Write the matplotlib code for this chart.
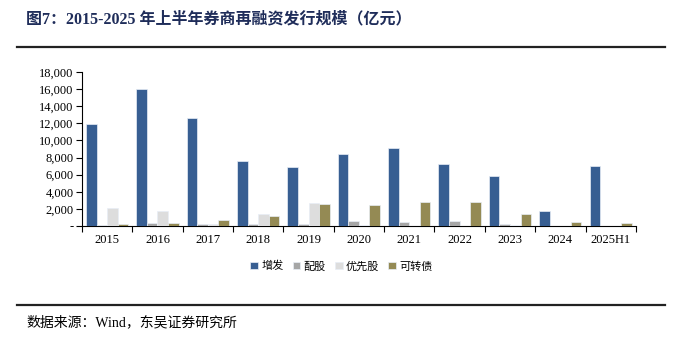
import matplotlib.pyplot as plt
import numpy as np
from matplotlib.ticker import FuncFormatter

plt.rcParams["font.family"] = ["Liberation Serif", "Noto Sans CJK SC", "DejaVu Sans"]

years = ["2015", "2016", "2017", "2018", "2019", "2020", "2021", "2022", "2023", "2024", "2025H1"]
series_names = ["增发", "配股", "优先股", "可转债"]
zengfa = [11900, 16000, 12600, 7600, 6900, 8380, 9150, 7280, 5830, 1760, 7000]
peigu = [60, 350, 200, 280, 200, 550, 520, 630, 180, 0, 0]
youxiangu = [2100, 1730, 220, 1400, 2630, 150, 0, 0, 100, 0, 0]
kezhuanzhai = [200, 300, 670, 1140, 2550, 2510, 2750, 2750, 1450, 520, 320]

colors = ["#375E92", "#A6A6A6", "#DDDDDD", "#948A54"]

fig = plt.figure(figsize=(6.83, 3.44), dpi=100)
fig.patch.set_facecolor("white")
ax = fig.add_axes([0.12, 0.343, 0.811, 0.448])

x = np.arange(len(years))
width = 0.21
for i, (vals, name) in enumerate(zip([zengfa, peigu, youxiangu, kezhuanzhai], series_names)):
    ax.bar(x + (i - 1.5) * width, vals, width, color=colors[i], label=name,
           edgecolor="#E8EEF6", linewidth=0.5, zorder=3)

ax.set_xlim(-0.5, len(years) - 0.5)
ax.set_ylim(0, 18000)
ax.set_yticks(np.arange(0, 18001, 2000))
ax.yaxis.set_major_formatter(FuncFormatter(lambda v, p: "-" if v == 0 else f"{int(v):,}"))
ax.set_xticks(x)
ax.set_xticklabels(years)
ax.set_xticks(np.arange(-0.5, len(years), 1), minor=True)
ax.tick_params(axis="x", which="major", length=0, pad=6, labelsize=9)
ax.tick_params(axis="x", which="minor", length=4, width=0.8, direction="out")
ax.tick_params(axis="y", length=4, width=0.8, direction="out", labelsize=9, pad=2)
for s in ["top", "right"]:
    ax.spines[s].set_visible(False)
ax.spines["left"].set_linewidth(0.8)
ax.spines["bottom"].set_linewidth(0.8)

leg = fig.legend(loc="center", bbox_to_anchor=(0.5, 0.226), ncol=4, frameon=False,
                 handlelength=0.7, handleheight=0.7, handletextpad=0.3, columnspacing=0.8,
                 prop={"family": ["Noto Sans CJK SC"], "size": 8})

fig.text(0.038, 0.945, "图7：2015-2025 年上半年券商再融资发行规模（亿元）", fontsize=11.5,
         fontweight="bold", color="#1F2D5A", va="center", ha="left",
         family=["Liberation Serif", "Noto Sans CJK SC"])
fig.add_artist(plt.Line2D([0.025, 0.974], [0.863, 0.863], color="#222222", linewidth=1.6))
fig.add_artist(plt.Line2D([0.025, 0.974], [0.113, 0.113], color="#222222", linewidth=1.6))
fig.text(0.038, 0.063, "数据来源：Wind，东吴证券研究所", fontsize=10, va="center", ha="left",
         family=["Liberation Serif", "Noto Sans CJK SC"])

fig.savefig("out.png", dpi=100, facecolor="white")
